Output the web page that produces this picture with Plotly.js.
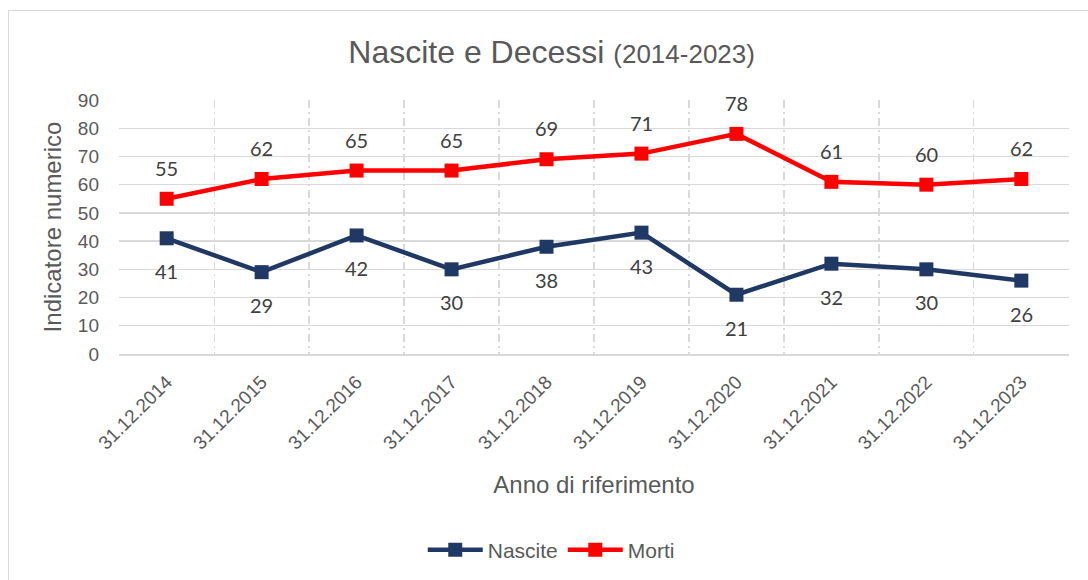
<!DOCTYPE html>
<html><head><meta charset="utf-8">
<script src="https://cdn.plot.ly/plotly-3.0.1.min.js"></script>
<style>
html,body{margin:0;padding:0;background:#fff;overflow:hidden;}
#wrap{position:relative;width:1088px;height:580px;}
#frame{position:absolute;left:8px;top:10px;width:1100px;height:600px;border:1.5px solid #d9d9d9;box-sizing:border-box;pointer-events:none;}
#chart{position:absolute;left:0;top:0;width:1088px;height:580px;}
</style></head>
<body><div id="wrap"><div id="chart"></div><div id="frame"></div></div>
<script>
const categories = ["31.12.2014","31.12.2015","31.12.2016","31.12.2017","31.12.2018","31.12.2019","31.12.2020","31.12.2021","31.12.2022","31.12.2023"];
const nascite = [41,29,42,30,38,43,21,32,30,26];
const morti = [55,62,65,65,69,71,78,61,60,62];

const navy = "#203864", red = "#ff0000", grey = "#595959";
const traces = [
  {x:categories, y:nascite, name:"Nascite", type:"scatter", mode:"lines+markers",
   line:{color:navy,width:4.5}, marker:{symbol:"square",size:14,color:navy}},
  {x:categories, y:morti, name:"Morti", type:"scatter", mode:"lines+markers",
   line:{color:red,width:4.5}, marker:{symbol:"square",size:14,color:red}}
];
const labelFont = {family:"Lato, Carlito, sans-serif",size:20,color:"#404040"};
const annotations = [];
categories.forEach((c,i)=>{
  annotations.push({x:c,y:morti[i],text:String(morti[i]),showarrow:false,yshift:31,font:labelFont});
  annotations.push({x:c,y:nascite[i],text:String(nascite[i]),showarrow:false,yshift:-33,font:labelFont});
});
const layout = {
  width:1088,height:580,
  margin:{l:119,r:19,t:100,b:225},
  paper_bgcolor:"#fff",plot_bgcolor:"#fff",
  font:{family:"Liberation Sans, Arial, sans-serif",color:grey},
  title:{text:'Nascite e Decessi <span style="font-size:26px">(2014-2023)</span>',
    font:{family:"Liberation Sans, Arial, sans-serif",size:32,color:grey},
    x:0.507,xanchor:"center",y:0.91,yanchor:"middle"},
  xaxis:{type:"category",tickson:"boundaries",showgrid:true,gridcolor:"#d9d9d9",griddash:"8px,4px,2px,4px",gridwidth:1.3,
    showline:true,linecolor:"#d9d9d9",linewidth:1.5,ticks:"",tickangle:-45,ticklabelstandoff:8,
    tickfont:{size:19,color:grey},range:[-0.502,9.502],zeroline:false,
    title:{text:"Anno di riferimento",font:{size:24,color:grey},standoff:23}},
  yaxis:{range:[0,90],dtick:10,showgrid:true,gridcolor:"#d9d9d9",gridwidth:1.3,zeroline:false,
    showline:false,ticks:"",tickfont:{size:19,color:grey},ticklabelstandoff:19,
    title:{text:"Indicatore numerico",font:{size:24,color:grey},standoff:9}},
  showlegend:true,
  legend:{orientation:"h",x:0.455,xanchor:"center",y:-0.765,yanchor:"middle",
    font:{size:21,color:grey},itemwidth:55},
  annotations:annotations
};
Plotly.newPlot("chart",traces,layout,{displayModeBar:false,staticPlot:true});
</script></body></html>
